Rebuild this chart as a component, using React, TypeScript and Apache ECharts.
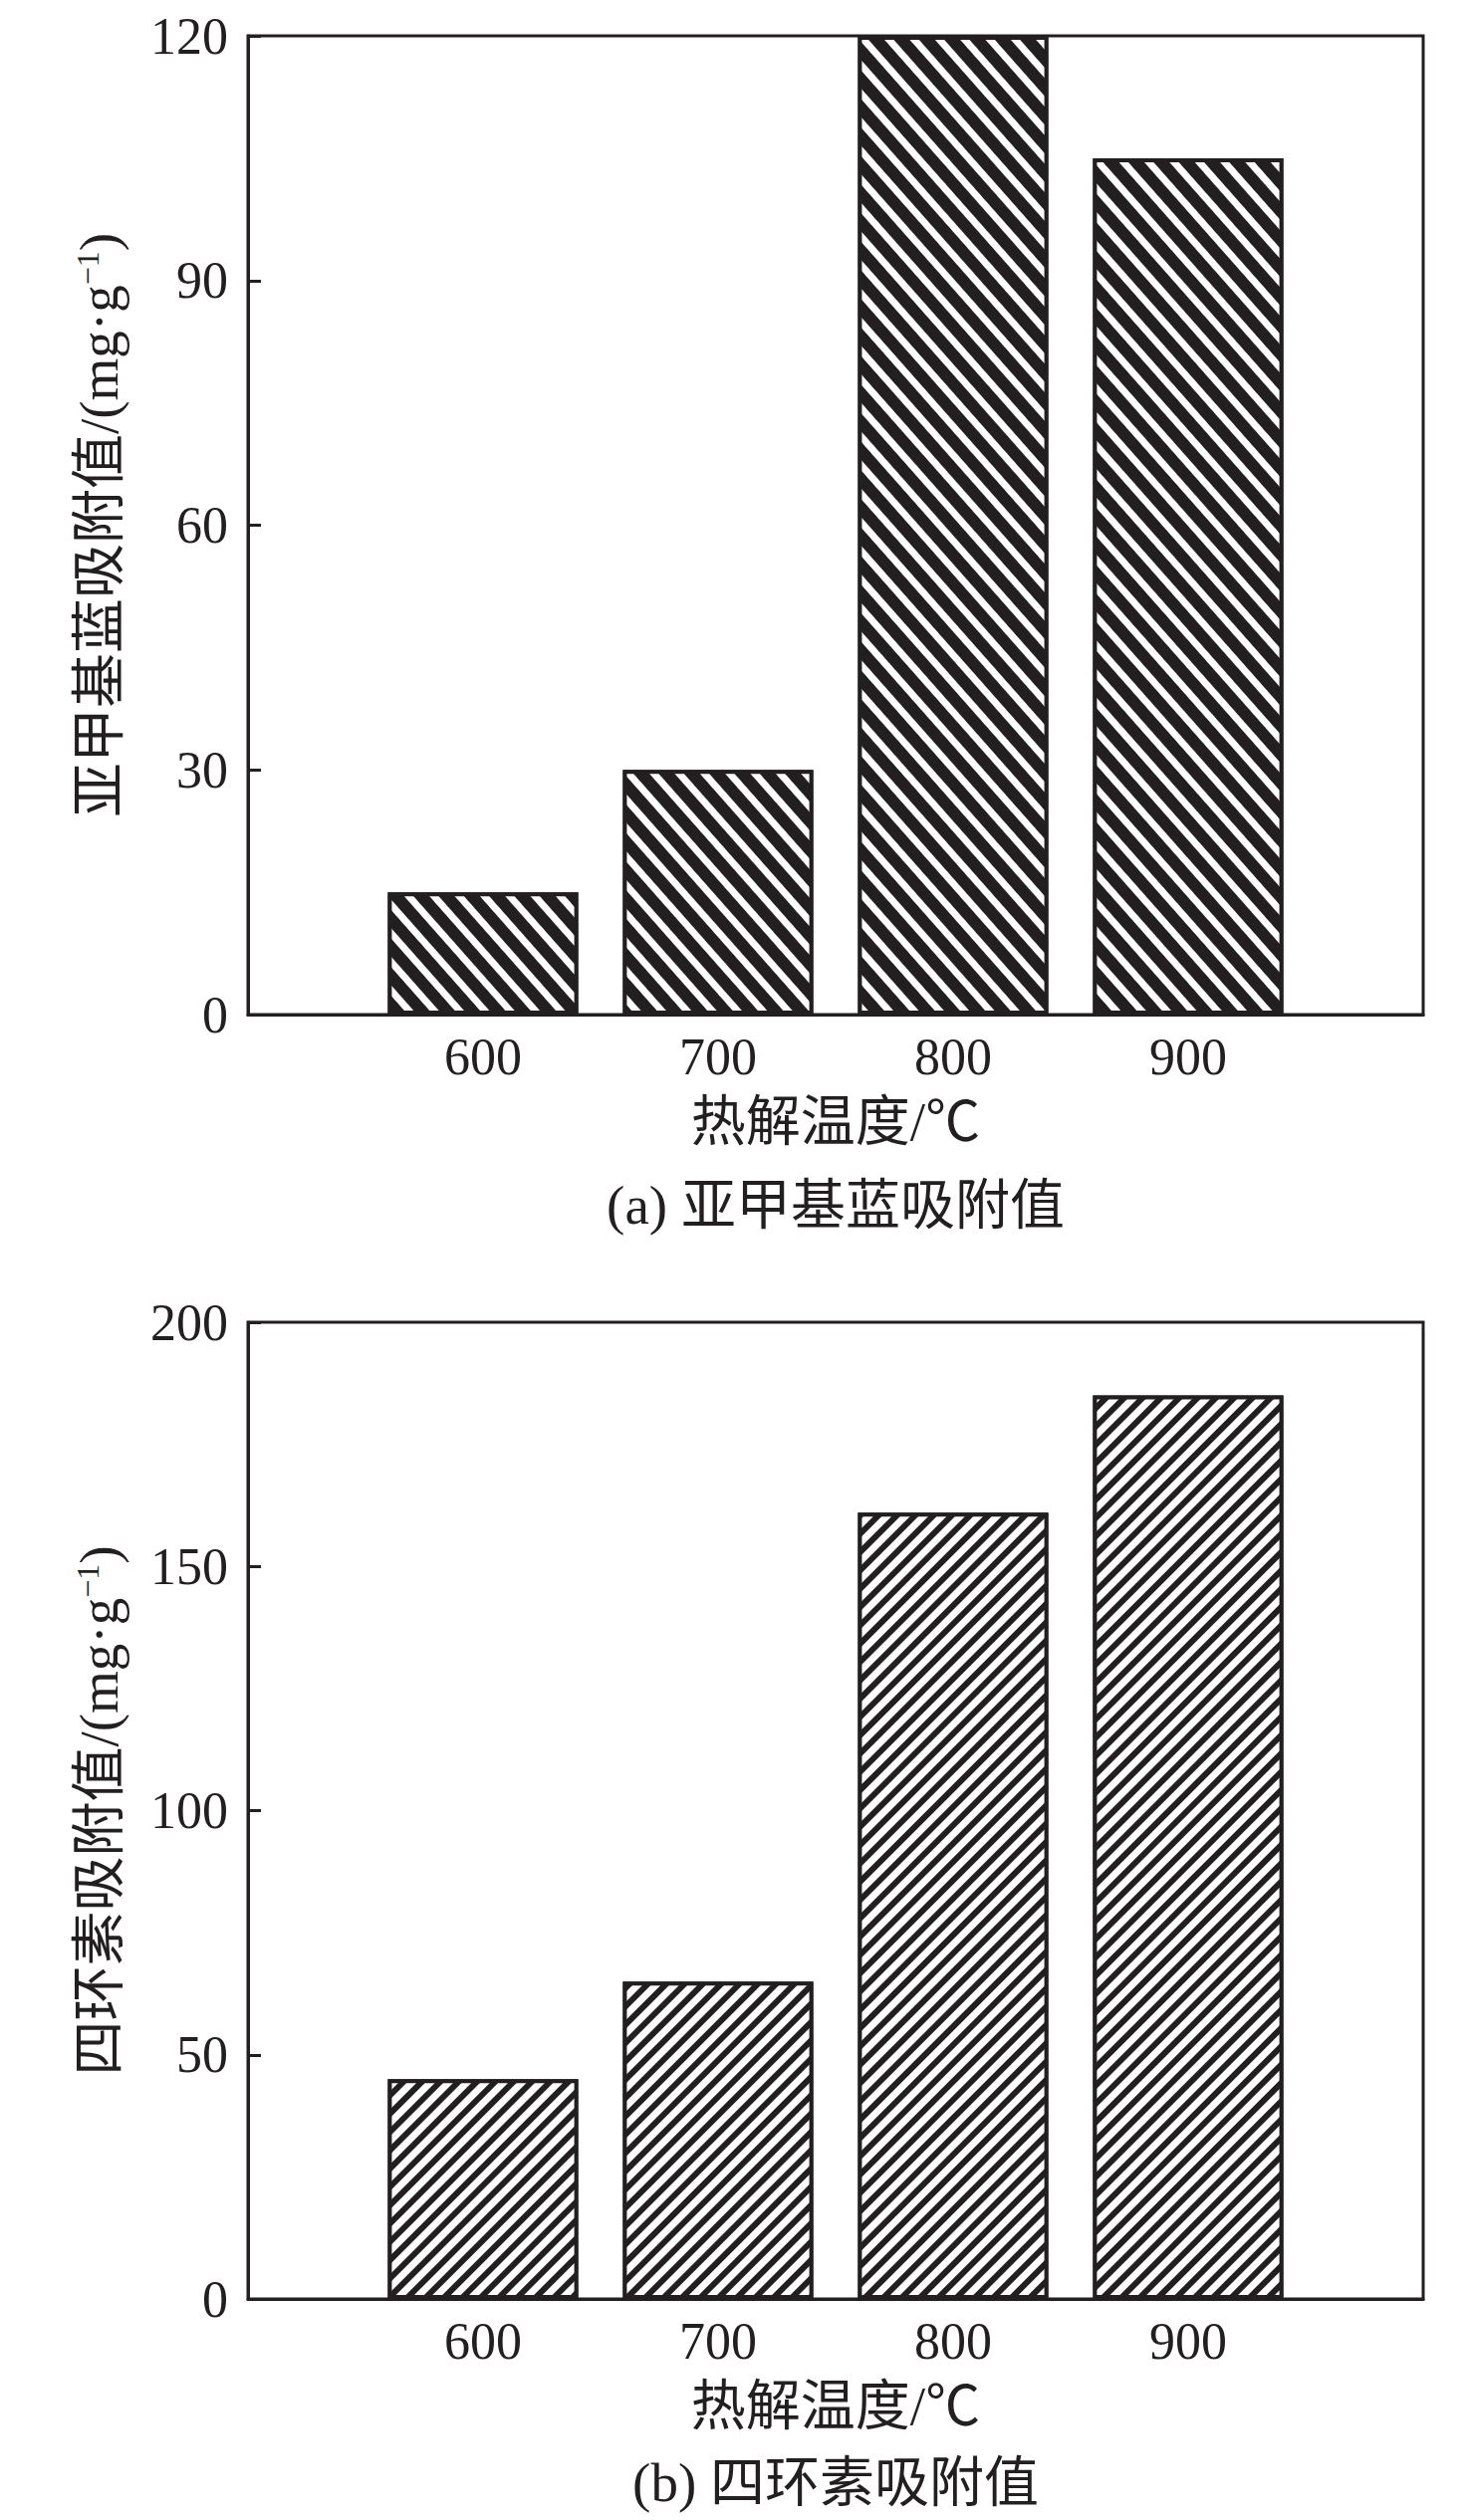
import React, { useEffect, useRef } from "react";
import * as echarts from "echarts";

// ---- data ----
const axisTemps = ["500", "600", "700", "800", "900", "1000"];
const shownTemps = ["600", "700", "800", "900"];
const mbValues = [15, 30, 120, 105];
const tcValues = [45, 65, 161, 185];
const mbTicks = { min: 0, max: 120, interval: 30 };
const tcTicks = { min: 0, max: 200, interval: 50 };
const xAxisName = "热解温度/℃";
const mbAxisName = "亚甲基蓝吸附值/(mg·g{sup|−1})";
const tcAxisName = "四环素吸附值/(mg·g{sup|−1})";
const captionA = "(a) 亚甲基蓝吸附值";
const captionB = "(b) 四环素吸附值";

const INK = "#231f20";
const FONT = "'Liberation Serif', 'Times New Roman', 'Noto Sans CJK SC', serif";

function toSeries(values: number[]) {
  return axisTemps.map((t) => {
    const i = shownTemps.indexOf(t);
    return i >= 0 ? values[i] : null;
  });
}

function xAxisFor(gridIndex: number) {
  return {
    type: "category",
    gridIndex,
    data: axisTemps,
    boundaryGap: false,
    name: xAxisName,
    nameLocation: "middle",
    nameGap: 80,
    nameTextStyle: { fontSize: 55, fontFamily: FONT, color: INK },
    axisLine: { show: true, lineStyle: { color: INK, width: 3 } },
    axisTick: { show: false },
    splitLine: { show: false },
    axisLabel: {
      margin: 16,
      fontSize: 52,
      fontFamily: FONT,
      color: INK,
      interval: 0,
      formatter: (v: string) => (shownTemps.includes(v) ? v : ""),
    },
  };
}

function yAxisFor(gridIndex: number, ticks: { min: number; max: number; interval: number }, name: string) {
  return {
    type: "value",
    gridIndex,
    min: ticks.min,
    max: ticks.max,
    interval: ticks.interval,
    name,
    nameLocation: "middle",
    nameRotate: 90,
    nameGap: 122,
    nameTextStyle: {
      fontSize: 55,
      fontFamily: FONT,
      color: INK,
      rich: {
        sup: { fontSize: 32, fontFamily: FONT, color: INK, verticalAlign: "top", lineHeight: 30 },
      },
    },
    axisLine: { show: true, lineStyle: { color: INK, width: 3 } },
    axisTick: { show: true, inside: true, length: 13, lineStyle: { color: INK, width: 3 } },
    splitLine: { show: false },
    axisLabel: { margin: 20, fontSize: 52, fontFamily: FONT, color: INK },
  };
}

function barSeries(idx: number, values: number[], rotation: number, stripe: number[]) {
  return {
    type: "bar",
    xAxisIndex: idx,
    yAxisIndex: idx,
    data: toSeries(values),
    barWidth: "81%",
    itemStyle: {
      color: INK,
      borderColor: INK,
      borderWidth: 4,
      decal: {
        symbol: "rect",
        symbolSize: 1,
        symbolKeepAspect: false,
        color: "#ffffff",
        dashArrayX: [30, 0],
        dashArrayY: stripe,
        rotation,
      },
    },
  };
}

function Chart() {
  const ref = useRef<HTMLDivElement>(null);
  useEffect(() => {
    if (!ref.current) return;
    const chart = echarts.init(ref.current, null, { renderer: "svg" });
    chart.setOption({
      animation: false,
      backgroundColor: "#ffffff",
      grid: [
        { left: 249, top: 36, width: 1180, height: 983, show: true, borderColor: INK, borderWidth: 3 },
        { left: 249, top: 1328, width: 1180, height: 981, show: true, borderColor: INK, borderWidth: 3 },
      ],
      xAxis: [xAxisFor(0), xAxisFor(1)],
      yAxis: [yAxisFor(0, mbTicks, mbAxisName), yAxisFor(1, tcTicks, tcAxisName)],
      series: [
        barSeries(0, mbValues, 0.847, [7, 12]),
        barSeries(1, tcValues, -Math.PI / 4, [7, 6]),
      ],
      graphic: [
        {
          type: "text",
          x: 839,
          y: 1210,
          style: { text: captionA, fontSize: 55, fontFamily: FONT, fill: INK, textAlign: "center", textVerticalAlign: "middle" },
        },
        {
          type: "text",
          x: 839,
          y: 2493,
          style: { text: captionB, fontSize: 55, fontFamily: FONT, fill: INK, textAlign: "center", textVerticalAlign: "middle" },
        },
      ],
    });
    return () => chart.dispose();
  }, []);
  return (
    <div
      ref={ref}
      style={{ position: "absolute", left: 0, top: 0, width: 1476, height: 2531, background: "#fff" }}
    />
  );
}

export default function App() {
  return <Chart />;
}
